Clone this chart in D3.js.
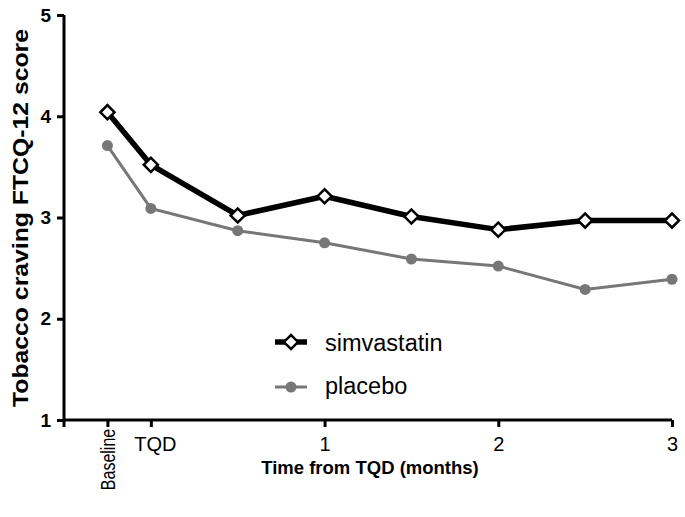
<!DOCTYPE html>
<html><head><meta charset="utf-8">
<script src="https://cdn.jsdelivr.net/npm/d3@7"></script>
<style>body{margin:0;background:#fff}svg{display:block}</style>
</head><body>
<svg id="c" width="685" height="517"></svg>
<script>
const timepoints = [-0.25, 0, 0.5, 1, 1.5, 2, 2.5, 3];
const simvastatin = [4.04, 3.52, 3.02, 3.21, 3.01, 2.88, 2.97, 2.97];
const placebo = [3.71, 3.09, 2.87, 2.75, 2.59, 2.52, 2.29, 2.39];
const xTickValues = [-0.25, 0, 1, 2, 3];
const xTickLabels = ["Baseline", "TQD", "1", "2", "3"];
const yTickValues = [1, 2, 3, 4, 5];
const seriesNames = ["simvastatin", "placebo"];

const svg = d3.select("#c");
const font = "Liberation Sans, Arial, sans-serif";
const x = d3.scaleLinear().domain([-0.5, 3]).range([64, 672]);
const y = d3.scaleLinear().domain([1, 5]).range([420, 15]);

// Y axis
const ya = svg.append("g").attr("transform", "translate(64,0)")
  .call(d3.axisLeft(y).tickValues(yTickValues).tickFormat(d3.format("d")).tickSize(7).tickSizeOuter(0).tickPadding(6));
ya.select(".domain").attr("stroke", "#000").attr("stroke-width", 3).attr("d", "M0," + y(5) + "V" + y(1));
ya.selectAll(".tick line").attr("stroke-width", 3);
ya.selectAll(".tick text").attr("font-family", font).attr("font-size", 19).attr("font-weight", "bold").attr("fill", "#000");

// X axis
const xa = svg.append("g").attr("transform", "translate(0,420)")
  .call(d3.axisBottom(x).tickValues(xTickValues).tickFormat((d, i) => xTickLabels[i]).tickSize(7).tickSizeOuter(0).tickPadding(10));
xa.select(".domain").attr("stroke", "#000").attr("stroke-width", 3).attr("d", "M" + x(-0.5) + ",0H" + x(3));
xa.selectAll(".tick line").attr("stroke-width", 3);
xa.selectAll(".tick text").attr("font-family", font).attr("font-size", 20).attr("fill", "#000");
xa.selectAll(".tick text").filter((d, i) => i === 1).attr("dx", 4);
xa.selectAll(".tick text").filter((d, i) => i === 0)
  .attr("font-size", 20)
  .attr("transform", "rotate(-90) scale(0.8,1)").attr("text-anchor", "end").attr("dy", "0.35em").attr("x", -11).attr("y", 0);
// extra tick at origin
xa.append("line").attr("x1", x(-0.5)).attr("x2", x(-0.5)).attr("y1", 0).attr("y2", 7).attr("stroke", "#000").attr("stroke-width", 3);

// Titles
svg.append("text").attr("x", 370).attr("y", 474).attr("text-anchor", "middle")
  .attr("font-family", font).attr("font-size", 18.5).attr("font-weight", "bold").text("Time from TQD (months)");
svg.append("text").attr("transform", "translate(28,218) rotate(-90)").attr("text-anchor", "middle")
  .attr("font-family", font).attr("font-size", 22).attr("font-weight", "bold")
  .attr("textLength", 378).attr("lengthAdjust", "spacingAndGlyphs").text("Tobacco craving FTCQ-12 score");

// Lines
const line = d3.line().x((d, i) => x(timepoints[i])).y(d => y(d));
svg.append("path").datum(placebo).attr("d", line).attr("fill", "none").attr("stroke", "#777").attr("stroke-width", 3);
svg.selectAll(".pdot").data(placebo).join("circle").attr("cx", (d, i) => x(timepoints[i])).attr("cy", d => y(d)).attr("r", 5.5).attr("fill", "#777");
svg.append("path").datum(simvastatin).attr("d", line).attr("fill", "none").attr("stroke", "#000").attr("stroke-width", 5.5).attr("stroke-linejoin", "round");
const diamond = d3.symbol().type(d3.symbolSquare).size(100);
svg.selectAll(".sdot").data(simvastatin).join("path").attr("d", diamond)
  .attr("transform", (d, i) => `translate(${x(timepoints[i])},${y(d)}) rotate(45)`)
  .attr("fill", "#fff").attr("stroke", "#000").attr("stroke-width", 2.5);

// Legend
const lg = svg.append("g");
lg.append("line").attr("x1", 275).attr("x2", 307).attr("y1", 342).attr("y2", 342).attr("stroke", "#000").attr("stroke-width", 5.5);
lg.append("path").attr("d", diamond).attr("transform", "translate(291,342) rotate(45)").attr("fill", "#fff").attr("stroke", "#000").attr("stroke-width", 2.5);
lg.append("text").attr("x", 325).attr("y", 351).attr("font-family", font).attr("font-size", 23.5).text(seriesNames[0]);
lg.append("line").attr("x1", 275).attr("x2", 307).attr("y1", 387).attr("y2", 387).attr("stroke", "#777").attr("stroke-width", 3);
lg.append("circle").attr("cx", 291).attr("cy", 387).attr("r", 5.5).attr("fill", "#777");
lg.append("text").attr("x", 325).attr("y", 394).attr("font-family", font).attr("font-size", 23.5).text(seriesNames[1]);
</script>
</body></html>
